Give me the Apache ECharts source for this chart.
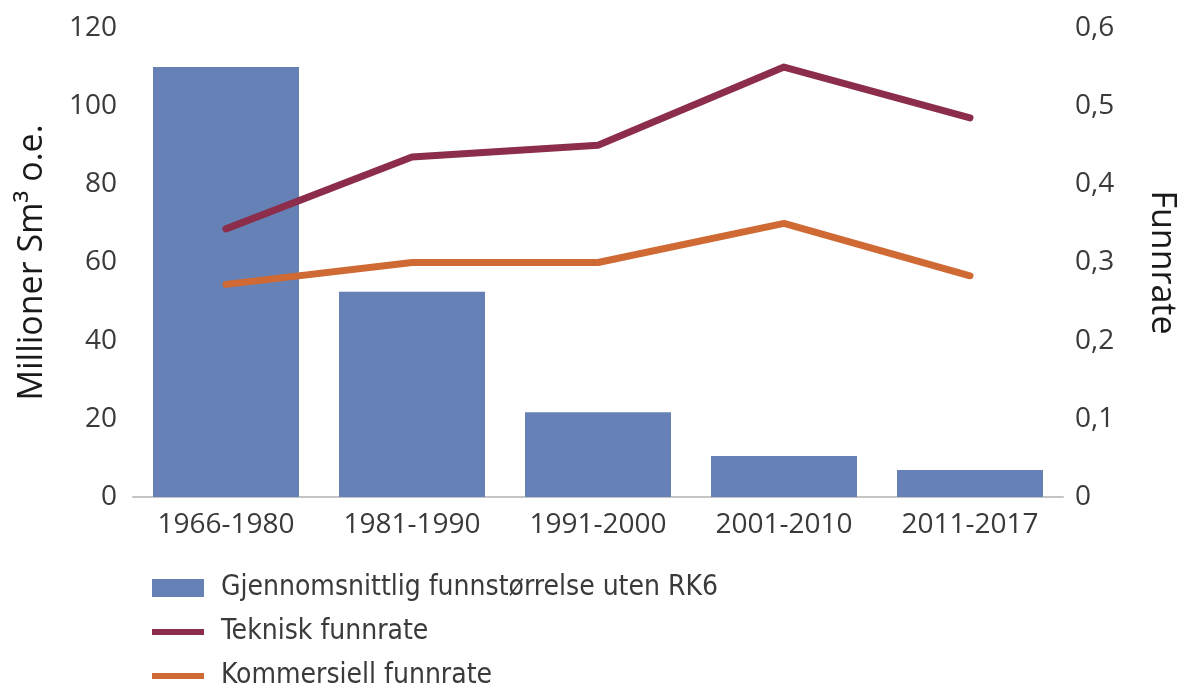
<!DOCTYPE html>
<html>
<head>
<meta charset="utf-8">
<script src="https://cdn.jsdelivr.net/npm/echarts@6/dist/echarts.min.js"></script>
<style>
  html, body { margin: 0; padding: 0; background: #fff; }
  #chart { width: 1178px; height: 691px; }
</style>
</head>
<body>
<div id="chart"></div>
<script>
const periods = ['1966-1980', '1981-1990', '1991-2000', '2001-2010', '2011-2017']
const funnstorrelse = [110, 52.5, 21.7, 10.5, 6.9]
const teknisk = [0.343, 0.435, 0.45, 0.55, 0.485]
const kommersiell = [0.272, 0.30, 0.30, 0.35, 0.283]

const axisFont = '"Open Sans", "Noto Sans", sans-serif'
const legendFont = '"DejaVu Sans Condensed", "Liberation Sans Narrow", sans-serif'
// icons drawn in a 64x18 box, leaving blank space before the text
const barIcon = 'path://M0,0 L52,0 L52,18 L0,18 Z M64,18'
const lineIcon = 'path://M0,0 M64,18 M0,6 L52,6 L52,12 L0,12 Z'

const chart = echarts.init(document.getElementById('chart'))

chart.setOption({
  animation: false,
  grid: { left: 133, right: 115, top: 28, bottom: 194, containLabel: false, outerBoundsMode: 'none' },
  legend: {
    orient: 'vertical',
    left: 152,
    top: 574,
    padding: 0,
    itemWidth: 64,
    itemHeight: 18,
    itemGap: 16,
    textStyle: { color: '#3a3a3a', fontSize: 28, lineHeight: 28, fontFamily: legendFont },
    data: [
      { name: 'Gjennomsnittlig funnstørrelse uten RK6', icon: barIcon },
      { name: 'Teknisk funnrate', icon: lineIcon },
      { name: 'Kommersiell funnrate', icon: lineIcon }
    ]
  },
  xAxis: {
    type: 'category',
    data: periods,
    axisLine: { lineStyle: { color: '#c4c4c4', width: 2 } },
    axisTick: { show: false },
    axisLabel: { color: '#3a3a3a', fontSize: 28, fontFamily: axisFont, margin: 14 }
  },
  yAxis: [
    {
      type: 'value',
      min: 0, max: 120, interval: 20,
      name: 'Millioner Sm³ o.e.',
      nameLocation: 'middle',
      nameGap: 84,
      nameTextStyle: { color: '#1a1a1a', fontSize: 34, fontFamily: axisFont },
      axisLine: { show: false },
      axisTick: { show: false },
      splitLine: { show: false },
      axisLabel: { color: '#3a3a3a', fontSize: 28, fontFamily: axisFont, margin: 16 }
    },
    {
      type: 'value',
      min: 0, max: 0.6, interval: 0.1,
      name: 'Funnrate',
      nameLocation: 'middle',
      nameRotate: -90,
      nameGap: 82,
      nameTextStyle: { color: '#1a1a1a', fontSize: 34, fontFamily: axisFont },
      axisLine: { show: false },
      axisTick: { show: false },
      splitLine: { show: false },
      axisLabel: {
        color: '#3a3a3a', fontSize: 28, fontFamily: axisFont, margin: 12,
        formatter: v => (Math.round(v * 10) / 10).toString().replace('.', ',')
      }
    }
  ],
  series: [
    {
      name: 'Gjennomsnittlig funnstørrelse uten RK6',
      type: 'bar',
      data: funnstorrelse,
      barWidth: 146,
      itemStyle: { color: '#6581b5' }
    },
    {
      name: 'Teknisk funnrate',
      type: 'line',
      yAxisIndex: 1,
      data: teknisk,
      symbol: 'none',
      itemStyle: { color: '#8c2e4b' },
      lineStyle: { color: '#8c2e4b', width: 7, cap: 'round', join: 'round' }
    },
    {
      name: 'Kommersiell funnrate',
      type: 'line',
      yAxisIndex: 1,
      data: kommersiell,
      symbol: 'none',
      itemStyle: { color: '#d06a35' },
      lineStyle: { color: '#d06a35', width: 7, cap: 'round', join: 'round' }
    }
  ]
})
</script>
</body>
</html>
